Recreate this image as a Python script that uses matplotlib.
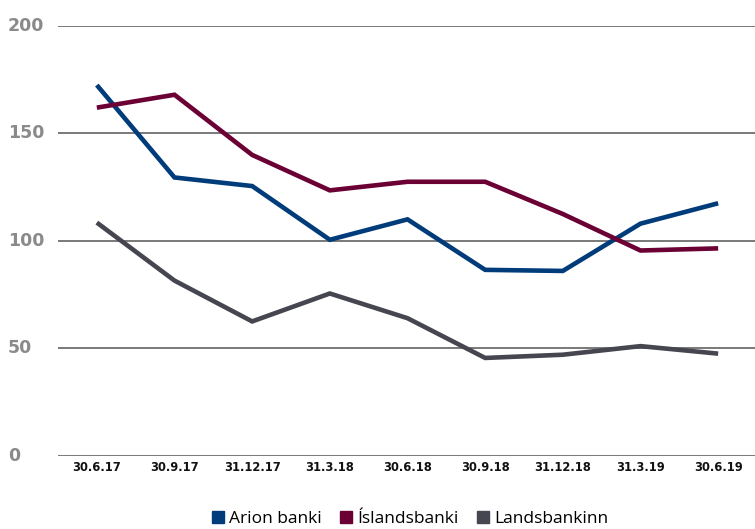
import matplotlib
matplotlib.use("Agg")
import matplotlib.pyplot as plt
from matplotlib.lines import Line2D
from matplotlib.transforms import ScaledTranslation

dates = ["30.6.17", "30.9.17", "31.12.17", "31.3.18", "30.6.18", "30.9.18", "31.12.18", "31.3.19", "30.6.19"]
arion = [172.5, 129.5, 125.5, 100.5, 110, 86.5, 86, 108, 117.5]
islandsbanki = [162, 168, 140, 123.5, 127.5, 127.5, 112.5, 95.5, 96.5]
landsbankinn = [108.5, 81.5, 62.5, 75.5, 64, 45.5, 47, 51, 47.5]
yticks = [0, 50, 100, 150, 200]

colors = ["#003b7a", "#6b0035", "#45464f"]
names = ["Arion banki", "Íslandsbanki", "Landsbankinn"]

fig = plt.figure(figsize=(7.55, 5.29), dpi=100)
ax = fig.add_axes([58/755, (529-455.7)/529, (757-58)/755, 429.7/529])
x = list(range(len(dates)))
for vals, c in zip([arion, islandsbanki, landsbankinn], colors):
    ax.plot(x, vals, color=c, lw=3.3, solid_joinstyle="miter", solid_capstyle="butt", zorder=3)

ax.set_xlim(-0.5, len(dates) - 0.5)
ax.set_ylim(0, 200)
ax.set_yticks(yticks)
ax.set_xticks(x)
ax.set_xticklabels(dates, fontsize=8.3, fontweight="bold", color="#111111", family="DejaVu Sans")
ax.set_yticklabels([str(v) for v in yticks], fontsize=12.5, fontweight="bold", color="#8a8a8a", family="DejaVu Sans")
off = ScaledTranslation(0, 2/100, fig.dpi_scale_trans)
for lab in ax.get_yticklabels():
    lab.set_horizontalalignment("left")
    lab.set_verticalalignment("center")
    lab.set_transform(lab.get_transform() + off)
ax.tick_params(axis="y", length=0, pad=36)
ax.tick_params(axis="x", length=0, pad=4)
for s in ax.spines.values():
    s.set_visible(False)
ax.grid(axis="y", color="#6e6e6e", lw=1.3, zorder=1)
ax.set_axisbelow(True)

handles = [Line2D([], [], marker="s", linestyle="none", markersize=8, markerfacecolor=c, markeredgecolor=c) for c in colors]
fig.legend(handles, names, loc="center", bbox_to_anchor=(409/755, 1 - 519/529), ncol=3, frameon=False,
           prop={"family": "Open Sans", "size": 12.5}, handletextpad=0.15, columnspacing=0.9, handlelength=1.0)

fig.savefig("out.png", dpi=100)
